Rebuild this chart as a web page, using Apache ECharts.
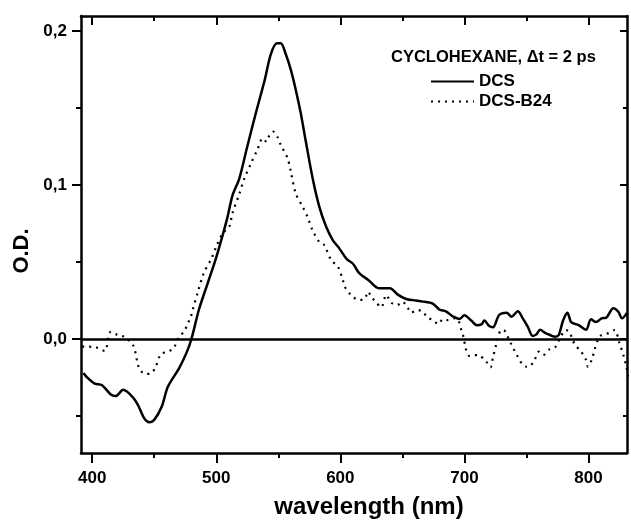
<!DOCTYPE html>
<html>
<head>
<meta charset="utf-8">
<script src="https://cdn.jsdelivr.net/npm/echarts@6/dist/echarts.min.js"></script>
<style>
  html, body { margin: 0; padding: 0; background: #fff; }
  #chart { width: 631px; height: 520px; }
</style>
</head>
<body>
<div id="chart"></div>
<script>
// values: wavelength (nm) and O.D.
const dcsWl = [393, 396, 402, 408, 415, 419, 425, 433, 437, 442, 446, 450, 456, 461, 470, 476, 480, 486, 493, 500,
  505, 509, 513, 518.5, 525, 532, 539, 544, 549, 552, 556, 560, 564, 568, 572, 578, 583, 588.5, 594, 599,
  605, 610, 615, 623, 631, 640, 646, 653, 661, 669, 674.5, 680, 685, 691, 696, 700, 705.5, 710, 714, 716,
  720, 723, 728, 734, 738, 743, 747, 751, 755, 758, 761, 765, 769, 773, 776, 779.5, 783, 786, 792, 798,
  802, 806, 810.5, 814.5, 820, 824, 827, 831];
const dcsOd = [-0.022, -0.025, -0.029, -0.030, -0.036, -0.037, -0.033, -0.038, -0.043, -0.0515, -0.054, -0.0525, -0.044, -0.031, -0.019, -0.009, 0.000, 0.019, 0.036, 0.053,
  0.067, 0.079, 0.093, 0.104, 0.125, 0.147, 0.168, 0.185, 0.192, 0.192, 0.185, 0.175, 0.162, 0.147, 0.129, 0.103, 0.086, 0.073, 0.064, 0.059,
  0.052, 0.049, 0.043, 0.038, 0.033, 0.033, 0.029, 0.026, 0.025, 0.024, 0.023, 0.019, 0.018, 0.0145, 0.013, 0.0155, 0.012, 0.009, 0.0097, 0.012,
  0.0084, 0.0076, 0.0156, 0.017, 0.0145, 0.018, 0.0134, 0.008, 0.002, 0.003, 0.006, 0.004, 0.0026, 0.0015, 0.0026, 0.012, 0.017, 0.011, 0.009, 0.006,
  0.0128, 0.011, 0.0134, 0.014, 0.020, 0.0177, 0.0134, 0.017];

const b24Wl = [392, 396, 403, 410, 415, 420.5, 425.5, 433, 437, 439.5, 443.5, 447.5, 451, 455.5, 461.5, 466, 470, 474, 477, 479.5,
  481, 485, 490, 496, 500, 505, 510.5, 513, 518.5, 522.5, 528, 533, 537.5, 540.5, 543, 546, 549.5, 552, 557.5, 560,
  564, 569.5, 573.5, 577.5, 583, 587, 592.5, 598, 602, 603.5, 607, 610.5, 615.5, 620, 622, 626, 629, 633, 637, 641,
  646, 650, 654.5, 657, 662.5, 666.5, 670, 674.5, 679, 682.5, 686.5, 692, 695, 697.5, 699.5, 701, 704, 708, 711, 717.5,
  721, 723, 725.5, 729, 731.5, 736, 739, 743, 746.5, 750, 753, 756.5, 760, 763.5, 768.5, 773, 775.5, 782, 785, 787,
  790, 794, 798, 799.5, 802.5, 805, 807, 809.5, 814, 817, 821, 825, 828.5, 830.5, 832];
const b24Od = [-0.005, -0.005, -0.0054, -0.0078, 0.0047, 0.0026, 0.0015, -0.004, -0.017, -0.021, -0.0227, -0.0223, -0.0184, -0.0097, -0.0082, -0.0054, 0.0015, 0.0047, 0.010, 0.0145,
  0.019, 0.030, 0.043, 0.052, 0.060, 0.0686, 0.073, 0.0816, 0.094, 0.104, 0.114, 0.1227, 0.1303, 0.128, 0.1325, 0.1346, 0.131, 0.126, 0.1173, 0.109,
  0.0946, 0.086, 0.0794, 0.0708, 0.063, 0.061, 0.0513, 0.047, 0.0383, 0.034, 0.030, 0.027, 0.0253, 0.0264, 0.0307, 0.0264, 0.0236, 0.0206, 0.0286, 0.0236,
  0.0221, 0.0242, 0.020, 0.0171, 0.0188, 0.0177, 0.0141, 0.0123, 0.0097, 0.0128, 0.0123, 0.0134, 0.0123, 0.0058, 0.0005, -0.006, -0.011, -0.0104, -0.0104, -0.0147,
  -0.0184, -0.0119, -0.0039, 0.0054, 0.0058, -0.0006, -0.0054, -0.0115, -0.0162, -0.018, -0.0175, -0.0136, -0.0082, -0.0104, -0.0067, -0.0054, -0.0017, 0.0058, 0.0041, -0.0006,
  -0.0045, -0.0082, -0.0136, -0.018, -0.0136, -0.0067, -0.0017, 0.002, 0.0032, 0.0041, 0.0058, -0.0028, -0.0115, -0.018, -0.0245];

const xMajor = [400, 500, 600, 700, 800];
const xMinor = [450, 550, 650, 750];
const yMajor = [0, 0.1, 0.2];
const yMinor = [-0.05, 0.05, 0.15];

const seriesNames = ["DCS", "DCS-B24"];
const legendTitle = "CYCLOHEXANE, \u0394t = 2 ps";

const FONT = '"Liberation Sans", Arial, sans-serif';
const X_MIN = 391, X_MAX = 831;
const Y_MIN = -0.074, Y_MAX = 0.2097;

function zip(a, b) {
  return a.map((v, i) => [v, b[i]]);
}

function xAxis(position, ticks, len, inside, withLine, withLabel) {
  return {
    type: "value", position: position, min: X_MIN, max: X_MAX,
    axisLine: { show: withLine, onZero: false, lineStyle: { color: "#000", width: 2.5 } },
    axisTick: { show: true, inside: inside, length: len, customValues: ticks, lineStyle: { color: "#000", width: 2 } },
    axisLabel: withLabel ? {
      show: true, customValues: ticks, margin: 17,
      color: "#000", fontFamily: FONT, fontWeight: "bold", fontSize: 17
    } : { show: false },
    splitLine: { show: false }
  };
}

function yAxis(position, ticks, len, inside, withLine, withLabel) {
  return {
    type: "value", position: position, min: Y_MIN, max: Y_MAX,
    axisLine: { show: withLine, onZero: false, lineStyle: { color: "#000", width: 2.5 } },
    axisTick: { show: true, inside: inside, length: len, customValues: ticks, lineStyle: { color: "#000", width: 2 } },
    axisLabel: withLabel ? {
      show: true, customValues: ticks, margin: 14,
      color: "#000", fontFamily: FONT, fontWeight: "bold", fontSize: 17,
      formatter: v => v.toFixed(1).replace(".", ",")
    } : { show: false },
    splitLine: { show: false }
  };
}

const chart = echarts.init(document.getElementById("chart"), null, { renderer: "canvas" });

chart.setOption({
  animation: false,
  backgroundColor: "#fff",
  grid: { left: 81, right: 4, top: 16, bottom: 67, containLabel: false },
  xAxis: [
    xAxis("bottom", xMajor, 10, false, true, true),
    xAxis("bottom", xMinor, 5, false, false, false),
    xAxis("top", xMajor, 9, true, true, false),
    xAxis("top", xMinor, 5, true, false, false)
  ],
  yAxis: [
    yAxis("left", yMajor, 9, false, true, true),
    yAxis("left", yMinor, 5, false, false, false),
    yAxis("right", yMajor, 7, true, true, false),
    yAxis("right", yMinor, 4, true, false, false)
  ],
  legend: {
    orient: "vertical",
    left: 430,
    top: 73,
    padding: 0,
    itemGap: 3,
    itemWidth: 43,
    itemHeight: 12,
    itemStyle: { opacity: 0 },
    textStyle: { color: "#000", fontFamily: FONT, fontWeight: "bold", fontSize: 17 },
    data: seriesNames
  },
  graphic: [
    {
      type: "text", x: 391, y: 57,
      style: { text: legendTitle, align: "left", verticalAlign: "middle",
        font: 'bold 16.5px "Liberation Sans", Arial, sans-serif', fill: "#000" }
    },
    {
      type: "text", x: 22, y: 251, rotation: Math.PI / 2,
      style: { text: "O.D.", align: "center", verticalAlign: "middle",
        font: 'bold 22px "Liberation Sans", Arial, sans-serif', fill: "#000" }
    },
    {
      type: "text", x: 369, y: 507,
      style: { text: "wavelength (nm)", align: "center", verticalAlign: "middle",
        font: 'bold 24px "Liberation Sans", Arial, sans-serif', fill: "#000" }
    }
  ],
  series: [
    {
      name: seriesNames[0],
      type: "line",
      xAxisIndex: 0, yAxisIndex: 0,
      data: zip(dcsWl, dcsOd),
      symbol: "none",
      smooth: 0.3,
      lineStyle: { color: "#000", width: 2.5 },
      itemStyle: { color: "#000" },
      markLine: {
        silent: true,
        symbol: "none",
        label: { show: false },
        lineStyle: { color: "#000", width: 2.5, type: "solid" },
        data: [{ yAxis: 0 }]
      }
    },
    {
      name: seriesNames[1],
      type: "line",
      xAxisIndex: 0, yAxisIndex: 0,
      data: zip(b24Wl, b24Od),
      symbol: "none",
      smooth: 0.3,
      lineStyle: { color: "#000", width: 2.2, type: [2, 5] },
      itemStyle: { color: "#000" }
    }
  ]
});
</script>
</body>
</html>
